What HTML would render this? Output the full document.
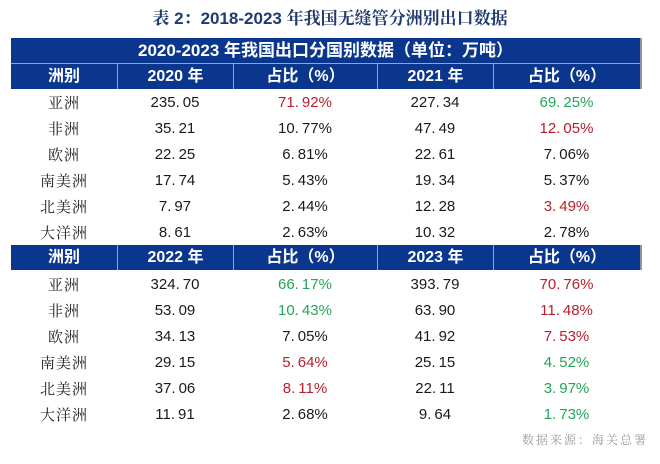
<!DOCTYPE html>
<html><head><meta charset="utf-8">
<style>
html,body{margin:0;padding:0;background:#fff;}
body{width:660px;height:464px;position:relative;overflow:hidden;font-family:"Liberation Sans","Noto Sans CJK SC",sans-serif;}
.title{position:absolute;left:0;width:660px;top:7px;height:24px;line-height:24px;text-align:center;font-size:17px;font-weight:bold;color:#1f3a6e;font-family:"Liberation Sans","Noto Serif CJK SC",serif;}
.band{position:absolute;left:11px;width:629px;background:#0b368e;color:#fff;font-weight:bold;}
.shadow{position:absolute;left:640px;width:2px;background:#8c94a3;}
.h1{top:38px;height:25px;line-height:25px;text-align:center;font-size:17px;}
.row{position:absolute;left:11px;width:629px;display:flex;height:26px;line-height:26px;}
.row div{text-align:center;flex:none;}
.c1{width:106px}.c2{width:116px}.c3{width:144px}.c4{width:116px}.c5{width:147px}
.hdr div{border-left:1px solid #8ea6d6;box-sizing:border-box;font-size:16px;font-weight:bold;color:#fff;}
.hdr div:first-child{border-left:none;}
.body div{font-size:15px;color:#1a1a1a;}
.body .c1{font-family:"Noto Serif CJK SC",serif;letter-spacing:1px;color:#222;}
.r{color:#b81f2c !important}.g{color:#22a557 !important}
.d{margin-right:3px}
.src{position:absolute;right:12px;top:431px;font-size:12px;letter-spacing:2px;color:#9a9a9a;font-family:"Noto Serif CJK SC",serif;}
</style></head><body>
<div class="title">表 2：2018-2023 年我国无缝管分洲别出口数据</div>

<div class="band h1">2020-2023 年我国出口分国别数据（单位：万吨）</div>
<div class="band" style="top:63px;height:1px;background:#8ea6d6"></div>
<div class="band row hdr" style="top:64px;height:25px;line-height:25px;">
<div class="c1">洲别</div><div class="c2">2020 年</div><div class="c3">占比（%）</div><div class="c4">2021 年</div><div class="c5">占比（%）</div>
</div>
<div class="shadow" style="top:38px;height:51px"></div>

<div class="row body" style="top:90px"><div class="c1">亚洲</div><div class="c2">235<span class="d">.</span>05</div><div class="c3 r">71<span class="d">.</span>92%</div><div class="c4">227<span class="d">.</span>34</div><div class="c5 g">69<span class="d">.</span>25%</div></div>
<div class="row body" style="top:116px"><div class="c1">非洲</div><div class="c2">35<span class="d">.</span>21</div><div class="c3">10<span class="d">.</span>77%</div><div class="c4">47<span class="d">.</span>49</div><div class="c5 r">12<span class="d">.</span>05%</div></div>
<div class="row body" style="top:142px"><div class="c1">欧洲</div><div class="c2">22<span class="d">.</span>25</div><div class="c3">6<span class="d">.</span>81%</div><div class="c4">22<span class="d">.</span>61</div><div class="c5">7<span class="d">.</span>06%</div></div>
<div class="row body" style="top:168px"><div class="c1">南美洲</div><div class="c2">17<span class="d">.</span>74</div><div class="c3">5<span class="d">.</span>43%</div><div class="c4">19<span class="d">.</span>34</div><div class="c5">5<span class="d">.</span>37%</div></div>
<div class="row body" style="top:194px"><div class="c1">北美洲</div><div class="c2">7<span class="d">.</span>97</div><div class="c3">2<span class="d">.</span>44%</div><div class="c4">12<span class="d">.</span>28</div><div class="c5 r">3<span class="d">.</span>49%</div></div>
<div class="row body" style="top:220px"><div class="c1">大洋洲</div><div class="c2">8<span class="d">.</span>61</div><div class="c3">2<span class="d">.</span>63%</div><div class="c4">10<span class="d">.</span>32</div><div class="c5">2<span class="d">.</span>78%</div></div>

<div class="band row hdr" style="top:245px;height:25px;line-height:25px;">
<div class="c1">洲别</div><div class="c2">2022 年</div><div class="c3">占比（%）</div><div class="c4">2023 年</div><div class="c5">占比（%）</div>
</div>
<div class="shadow" style="top:245px;height:25px"></div>

<div class="row body" style="top:272px"><div class="c1">亚洲</div><div class="c2">324<span class="d">.</span>70</div><div class="c3 g">66<span class="d">.</span>17%</div><div class="c4">393<span class="d">.</span>79</div><div class="c5 r">70<span class="d">.</span>76%</div></div>
<div class="row body" style="top:298px"><div class="c1">非洲</div><div class="c2">53<span class="d">.</span>09</div><div class="c3 g">10<span class="d">.</span>43%</div><div class="c4">63<span class="d">.</span>90</div><div class="c5 r">11<span class="d">.</span>48%</div></div>
<div class="row body" style="top:324px"><div class="c1">欧洲</div><div class="c2">34<span class="d">.</span>13</div><div class="c3">7<span class="d">.</span>05%</div><div class="c4">41<span class="d">.</span>92</div><div class="c5 r">7<span class="d">.</span>53%</div></div>
<div class="row body" style="top:350px"><div class="c1">南美洲</div><div class="c2">29<span class="d">.</span>15</div><div class="c3 r">5<span class="d">.</span>64%</div><div class="c4">25<span class="d">.</span>15</div><div class="c5 g">4<span class="d">.</span>52%</div></div>
<div class="row body" style="top:376px"><div class="c1">北美洲</div><div class="c2">37<span class="d">.</span>06</div><div class="c3 r">8<span class="d">.</span>11%</div><div class="c4">22<span class="d">.</span>11</div><div class="c5 g">3<span class="d">.</span>97%</div></div>
<div class="row body" style="top:402px"><div class="c1">大洋洲</div><div class="c2">11<span class="d">.</span>91</div><div class="c3">2<span class="d">.</span>68%</div><div class="c4">9<span class="d">.</span>64</div><div class="c5 g">1<span class="d">.</span>73%</div></div>

<div class="src">数据来源：海关总署</div>
</body></html>
